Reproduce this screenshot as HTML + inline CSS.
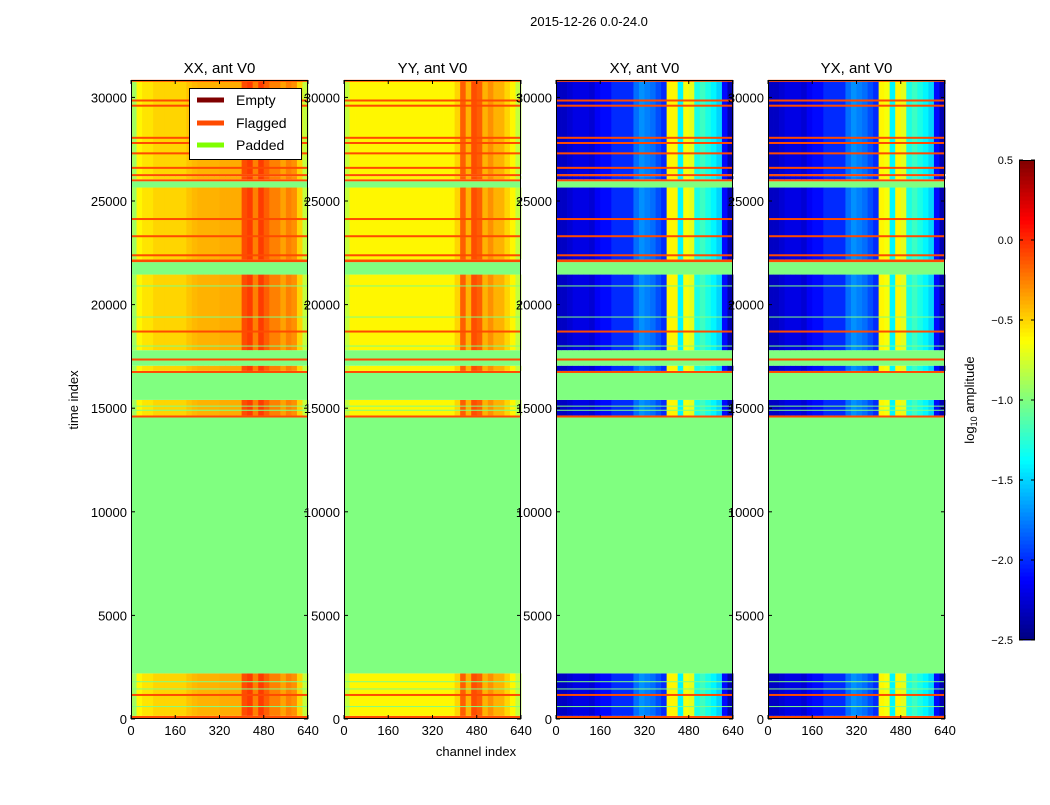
<!DOCTYPE html>
<html><head><meta charset="utf-8"><style>
body{margin:0;background:#fff;}
svg text{font-family:"Liberation Sans",sans-serif;fill:#000;}
</style></head><body>
<svg id="fig" width="1050" height="800" xmlns="http://www.w3.org/2000/svg">
<rect width="1050" height="800" fill="#fff"/>
<text x="589" y="26" font-size="13" text-anchor="middle">2015-12-26 0.0-24.0</text>
<text x="476" y="756" font-size="13" text-anchor="middle">channel index</text>
<text x="78" y="400" font-size="13" text-anchor="middle" transform="rotate(-90 78 400)">time index</text>
<g id="panels"></g>
<g id="cbar"></g>
<text x="974" y="400" font-size="13" text-anchor="middle" transform="rotate(-90 974 400)">log<tspan font-size="9" dy="3">10</tspan><tspan dy="-3"> amplitude</tspan></text>
<g>
<rect x="189.5" y="88.5" width="112" height="71" fill="#fff" stroke="#000"/>
<line x1="197" y1="100" x2="224" y2="100" stroke="#800000" stroke-width="5"/>
<text x="236" y="105" font-size="14">Empty</text>
<line x1="197" y1="123" x2="224" y2="123" stroke="#ff4a00" stroke-width="5"/>
<text x="236" y="128" font-size="14">Flagged</text>
<line x1="197" y1="145" x2="224" y2="145" stroke="#80ff00" stroke-width="5"/>
<text x="236" y="150" font-size="14">Padded</text>
</g>
</svg>
<script>
const panelTitles=["XX, ant V0","YY, ant V0","XY, ant V0","YX, ant V0"];
const panelLeft=[131,344,556,768];
const xTicks=[0,160,320,480,640];
const yTicks=[0,5000,10000,15000,20000,25000,30000];
const cbTicks=[0.5,0.0,-0.5,-1.0,-1.5,-2.0,-2.5];
const bands=[[0,150,'f'],[150,2200,'d'],[2200,14550,'p'],[14550,14650,'f'],[14650,15400,'d'],[15400,16700,'p'],[16700,16800,'f'],[16800,17050,'d'],[17050,17300,'p'],[17300,17400,'f'],[17400,17800,'p'],[17800,21450,'d'],[21450,22050,'p'],[22050,22180,'f'],[22180,25650,'d'],[25650,25950,'p'],[25950,26050,'f'],[26050,26200,'d'],[26200,26300,'f'],[26300,30840,'d']];
const flagLines=[1160,18700,22380,23300,24130,26600,27300,27800,28050,29600,29850,30800];
const padLines=[600,1450,1800,14900,15100,18000,19400,20900];
const xxVals=[-0.9,-0.6,-0.55,-0.55,-0.5,-0.5,-0.5,-0.5,-0.5,-0.5,-0.45,-0.42,-0.4,-0.4,-0.4,-0.4,-0.38,-0.38,-0.38,-0.38,-0.1,-0.05,-0.25,-0.05,-0.15,-0.25,-0.25,-0.35,-0.25,-0.3,-0.5,-0.8];
const yyVals=[-0.8,-0.6,-0.6,-0.6,-0.6,-0.6,-0.6,-0.6,-0.6,-0.6,-0.6,-0.6,-0.6,-0.6,-0.6,-0.6,-0.6,-0.6,-0.6,-0.6,-0.5,-0.15,-0.4,-0.1,-0.15,-0.4,-0.3,-0.4,-0.4,-0.5,-0.6,-0.8];
const xyVals=[-2.3,-2.3,-2.25,-2.2,-2.2,-2.2,-2.25,-2.15,-2.1,-2.1,-2.0,-2.0,-2.0,-2.0,-1.8,-1.7,-1.75,-1.8,-1.9,-2.0,-0.6,-0.6,-1.4,-0.65,-0.7,-1.3,-1.2,-1.3,-1.4,-1.5,-2.1,-2.35];
const yxVals=[-2.3,-2.3,-2.25,-2.2,-2.2,-2.2,-2.25,-2.15,-2.1,-2.1,-2.0,-2.0,-2.0,-2.0,-1.8,-1.7,-1.75,-1.8,-1.9,-2.0,-0.6,-0.65,-1.4,-0.6,-0.7,-1.3,-1.2,-1.3,-1.4,-1.5,-2.1,-2.35];
const allVals=[xxVals,yyVals,xyVals,yxVals];

const NS="http://www.w3.org/2000/svg";
const PW=177, TOP=80, BOT=719, TMAX=30840;
function yOf(v){return BOT-(v/TMAX)*(BOT-TOP);}
function xOf(p,c){return panelLeft[p]+c/640*PW;}
function cl(x){return Math.max(0,Math.min(1,x));}
function jet(v){const t=cl((v+2.5)/3);const r=cl(1.5-Math.abs(4*t-3)),g=cl(1.5-Math.abs(4*t-2)),b=cl(1.5-Math.abs(4*t-1));
 return `rgb(${Math.round(r*255)},${Math.round(g*255)},${Math.round(b*255)})`;}
const PAD="#80ff80", FLAG="#ff4a00";
function mk(tag,attrs,parent){const e=document.createElementNS(NS,tag);for(const k in attrs)e.setAttribute(k,attrs[k]);parent.appendChild(e);return e;}
const root=document.getElementById('panels');
for(let p=0;p<4;p++){
 const g=mk('g',{},root);
 
 
 const vals=allVals[p];
 bands.forEach(b=>{
  const y1=yOf(b[1]),y0=yOf(b[0]);
  if(b[2]==='d'){
   vals.forEach((v,i)=>{
    const r=mk('rect',{x:xOf(p,i*20),y:y1,width:PW/32+0.4,height:y0-y1,fill:jet(v)},g);
    
    
   });
  } else {
   const r=mk('rect',{x:xOf(p,0),y:y1,width:PW,height:y0-y1,fill:b[2]==='p'?PAD:FLAG},g);
   
   
  }
 });
 flagLines.forEach(v=>{const r=mk('rect',{x:xOf(p,0),y:yOf(v)-1,width:PW,height:2,fill:FLAG},g);
  });
 padLines.forEach(v=>{const r=mk('rect',{x:xOf(p,0),y:yOf(v)-0.5,width:PW,height:1,fill:PAD},g);
  });
 const fr=mk('rect',{x:panelLeft[p]+0.5,y:TOP+0.5,width:PW-1,height:BOT-TOP-1,fill:'none',stroke:'#000'},g);
 
 const t=mk('text',{x:panelLeft[p]+PW/2,y:73,'font-size':15,'text-anchor':'middle'},g);t.textContent=panelTitles[p];
 
 xTicks.forEach(c=>{const x=xOf(p,c);
  mk('line',{x1:x,y1:BOT,x2:x,y2:BOT-4,stroke:'#000'},g);mk('line',{x1:x,y1:TOP,x2:x,y2:TOP+4,stroke:'#000'},g);
  const l=mk('text',{x:x,y:BOT+16,'font-size':13,'text-anchor':'middle'},g);l.textContent=c;
  });
 yTicks.forEach(v=>{const y=yOf(v);
  mk('line',{x1:panelLeft[p],y1:y,x2:panelLeft[p]+4,y2:y,stroke:'#000'},g);mk('line',{x1:panelLeft[p]+PW,y1:y,x2:panelLeft[p]+PW-4,y2:y,stroke:'#000'},g);
  const l=mk('text',{x:panelLeft[p]-4,y:y+5,'font-size':13,'text-anchor':'end'},g);l.textContent=v;
  });
}
const cb=document.getElementById('cbar');const CX=1019,CW=16,CT=160,CB=640;
for(let i=0;i<120;i++){const v=-2.5+3*(i+0.5)/120;const y=CB-(i+1)*(CB-CT)/120;
 const r=mk('rect',{x:CX,y:y,width:CW,height:(CB-CT)/120+0.5,fill:jet(v)},cb);
 }
mk('rect',{x:CX+0.5,y:CT+0.5,width:CW-1,height:CB-CT-1,fill:'none',stroke:'#000'},cb);
cbTicks.forEach(v=>{const y=CB-(v+2.5)/3*(CB-CT);
 mk('line',{x1:CX,y1:y,x2:CX+4,y2:y,stroke:'#000'},cb);mk('line',{x1:CX+CW,y1:y,x2:CX+CW-4,y2:y,stroke:'#000'},cb);
 const l=mk('text',{x:CX-6,y:y+4,'font-size':11,'text-anchor':'end'},cb);l.textContent=(v<0?'\u2212':'')+Math.abs(v).toFixed(1);
 });
</script>
</body></html>
